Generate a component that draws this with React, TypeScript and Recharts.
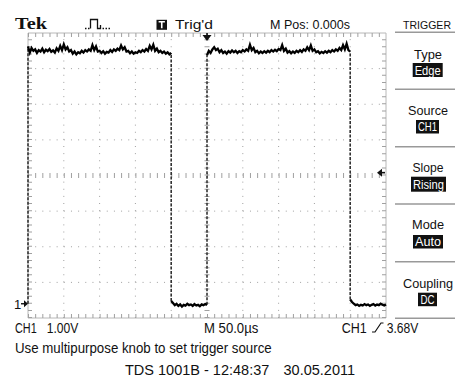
import React from 'react';
import { LineChart, Line, XAxis, YAxis, ReferenceLine, ReferenceDot } from 'recharts';

// ---- data (time in µs, voltage in V) ----
const SAMPLE_STEP = 2.5;
const high1Start = -250;
const high1 = [
  7.22, 7.05, 7.18, 7.10, 7.14, 7.04, 7.12, 7.08, 7.16, 7.06,
  7.13, 7.09, 7.15, 7.07, 7.11, 7.05, 7.17, 7.10, 7.24, 7.12,
  7.28, 7.14, 7.20, 7.08, 7.12, 7.02, 7.08, 7.00, 7.06, 7.03,
  7.10, 7.05, 7.12, 7.08, 7.14, 7.10, 7.26, 7.12, 7.22, 7.08,
  7.10, 7.04, 7.09, 7.02, 7.07, 7.05, 7.12, 7.07, 7.14, 7.10,
  7.16, 7.12, 7.25, 7.14, 7.20, 7.08, 7.10, 7.03, 7.08, 7.02,
  7.06, 7.04, 7.10, 7.06, 7.12, 7.08, 7.15, 7.10, 7.24, 7.14,
  7.27, 7.10, 7.16, 7.06, 7.10, 7.04, 7.08, 7.02, 7.06, 7.00,
  7.04,
];
const low1Start = -50;
const low1 = [
  0.08, 0.02, -0.04, 0.00, -0.06, -0.02, -0.08, -0.03, -0.05, 0.00,
  -0.04, -0.02, -0.06, -0.01, -0.05, -0.03, -0.07, -0.02, -0.04, -0.01,
  -0.03,
];
const high2Start = 0;
const high2 = [
  6.98, 7.10, 7.04, 7.14, 7.20, 7.12, 7.16, 7.06, 7.12, 7.04,
  7.08, 7.02, 7.09, 7.05, 7.11, 7.06, 7.10, 7.04, 7.09, 7.06,
  7.12, 7.08, 7.14, 7.10, 7.27, 7.12, 7.18, 7.06, 7.10, 7.03,
  7.08, 7.04, 7.09, 7.05, 7.10, 7.06, 7.12, 7.08, 7.13, 7.09,
  7.15, 7.12, 7.26, 7.10, 7.16, 7.05, 7.09, 7.03, 7.08, 7.04,
  7.10, 7.06, 7.12, 7.07, 7.14, 7.10, 7.20, 7.12, 7.25, 7.10,
  7.14, 7.06, 7.09, 7.03, 7.07, 7.04, 7.09, 7.05, 7.10, 7.06,
  7.12, 7.08, 7.14, 7.10, 7.18, 7.12, 7.26, 7.14, 7.30, 7.12,
  7.08,
];
const low2Start = 200;
const low2 = [
  0.12, 0.05, 0.00, -0.04, -0.02, -0.06, -0.03, -0.05, -0.01, -0.04,
  -0.02, -0.06, -0.03, -0.01, -0.05, -0.02, -0.04, 0.00, -0.03, -0.05,
  -0.02,
];
const edgeTimes = [-250, -50, 0, 200];
const edgeLows = [0.0, 0.08, -0.03, 0.12];
const edgeHighs = [7.22, 7.04, 6.98, 7.08];

// axes / graticule (10 x 50 µs, 8 x 1 V)
const timeDomain = [-250, 250];
const voltDomain = [-0.4, 7.6];
const gridTimes = [-200, -150, -100, -50, 50, 100, 150, 200];
const gridVolts = [0.6, 1.6, 2.6, 4.6, 5.6, 6.6];
const centerTime = 0;
const centerVolt = 3.6;
const triggerLevel = 3.68;
const groundLevel = 0;

const toSeries = (start: number, vals: number[]) =>
  vals.map((v, i) => ({ t: start + i * SAMPLE_STEP, v }));

const segments = [
  toSeries(high1Start, high1),
  toSeries(low1Start, low1),
  toSeries(high2Start, high2),
  toSeries(low2Start, low2),
];
const edgeSeries = edgeTimes.map((t, i) => [
  { t, v: edgeLows[i] },
  { t, v: edgeHighs[i] },
]);

const W = 455;
const H = 382;
const M = { top: 33, right: 69, bottom: 64, left: 28 };
const pxPerUs = (W - M.left - M.right) / (timeDomain[1] - timeDomain[0]);
const pxPerV = (H - M.top - M.bottom) / (voltDomain[1] - voltDomain[0]);
const insetT = 2 / pxPerUs;
const insetV = 2 / pxPerV;

const GRID = '#a0a0a0';
const SANS = '"Liberation Sans Narrow", "Liberation Sans", Arial, sans-serif';
const SANS_W = '"Liberation Sans", Arial, sans-serif';

const Txt = ({ x, y, w, size = 14, fill = '#111', family = SANS, weight = 400, anchor = 'start', children }: any) => (
  <text
    x={x}
    y={y}
    fontSize={size}
    fill={fill}
    fontFamily={family}
    fontWeight={weight}
    textAnchor={anchor}
    textLength={w}
    lengthAdjust={w ? 'spacingAndGlyphs' : undefined}
  >
    {children}
  </text>
);

const menu = [
  { label: 'Type', value: 'Edge', ly: 58.5, lw: 28, bx: 412.7, by: 63, bw: 30, bh: 14, vw: 26 },
  { label: 'Source', value: 'CH1', ly: 115, lw: 40, bx: 416, by: 120, bw: 23, bh: 13.5, vw: 19 },
  { label: 'Slope', value: 'Rising', ly: 171.5, lw: 31, bx: 411, by: 176.7, bw: 35, bh: 15, vw: 31 },
  { label: 'Mode', value: 'Auto', ly: 229, lw: 32, bx: 413, by: 235, bw: 30, bh: 13.5, vw: 26 },
  { label: 'Coupling', value: 'DC', ly: 287.5, lw: 50, bx: 418, by: 292.7, bw: 19, bh: 13.5, vw: 14 },
];
const menuLines = [32.3, 89.3, 146.7, 204, 261.7, 318.3];

const TopMarker = (p: any) => (
  <path
    d={`M${p.cx - 4.5},${p.cy + 2} h9 l-4.5,6 z M${p.cx - 0.8},${p.cy} h1.6 v3 h-1.6 z`}
    fill="#111"
  />
);
const TrigMarker = (p: any) => (
  <g>
    <path d={`M${p.cx - 9},${p.cy} l5,-4 v8 z`} fill="#111" />
    <line x1={p.cx - 5} y1={p.cy} x2={p.cx - 1} y2={p.cy} stroke="#111" strokeWidth={1.6} />
  </g>
);
const GroundMarker = (p: any) => (
  <g>
    <text x={p.cx - 14} y={p.cy + 5} fontSize={13} fontFamily={SANS_W} fill="#111">1</text>
    <path d={`M${p.cx},${p.cy} l-4,-3.5 v7 z`} fill="#111" />
    <line x1={p.cx - 7} y1={p.cy} x2={p.cx - 3} y2={p.cy} stroke="#111" strokeWidth={1.4} />
  </g>
);

export default function App() {
  return (
    <div style={{ position: 'absolute', left: 0, top: 0, width: W, height: H, background: '#fff', overflow: 'hidden' }}>
      <div style={{ position: 'absolute', left: 0, top: 0 }}>
        <LineChart width={W} height={H} margin={M}>
          <XAxis type="number" dataKey="t" domain={timeDomain} hide />
          <YAxis type="number" dataKey="v" domain={voltDomain} hide />
          {/* frame */}
          <ReferenceLine y={voltDomain[1]} stroke="#b8b8b8" strokeWidth={1} />
          <ReferenceLine y={voltDomain[0]} stroke="#b8b8b8" strokeWidth={1} />
          <ReferenceLine x={timeDomain[0]} stroke="#b8b8b8" strokeWidth={1} />
          <ReferenceLine x={timeDomain[1]} stroke="#b8b8b8" strokeWidth={1} />
          {/* frame ticks */}
          <ReferenceLine y={voltDomain[1] - insetV} stroke={GRID} strokeWidth={4} strokeDasharray={`1 ${pxPerUs * 10 - 1}`} />
          <ReferenceLine y={voltDomain[0] + insetV} stroke={GRID} strokeWidth={4} strokeDasharray={`1 ${pxPerUs * 10 - 1}`} />
          <ReferenceLine x={timeDomain[0] + insetT} stroke={GRID} strokeWidth={4} strokeDasharray={`1 ${pxPerV * 0.2 - 1}`} />
          <ReferenceLine x={timeDomain[1] - insetT} stroke={GRID} strokeWidth={4} strokeDasharray={`1 ${pxPerV * 0.2 - 1}`} />
          {/* dotted graticule */}
          {gridTimes.map((t) => (
            <ReferenceLine key={'gt' + t} x={t} stroke={GRID} strokeWidth={1} strokeDasharray={`1 ${pxPerV * 0.2 - 1}`} />
          ))}
          {gridVolts.map((v) => (
            <ReferenceLine key={'gv' + v} y={v} stroke={GRID} strokeWidth={1} strokeDasharray={`1 ${pxPerUs * 10 - 1}`} />
          ))}
          {/* center lines with minor ticks */}
          <ReferenceLine y={centerVolt} stroke={GRID} strokeWidth={5} strokeDasharray={`1 ${pxPerUs * 10 - 1}`} />
          <ReferenceLine x={centerTime} stroke={GRID} strokeWidth={5} strokeDasharray={`1 ${pxPerV * 0.2 - 1}`} />
          {/* trace */}
          {edgeSeries.map((d, i) => (
            <Line
              key={'e' + i}
              data={d}
              dataKey="v"
              stroke="#333"
              strokeWidth={1.6}
              strokeDasharray="3 1.5"
              dot={false}
              isAnimationActive={false}
            />
          ))}
          {segments.map((d, i) => (
            <Line
              key={'s' + i}
              data={d}
              dataKey="v"
              stroke="#000"
              strokeWidth={2.3}
              strokeLinejoin="miter"
              dot={false}
              isAnimationActive={false}
            />
          ))}
          <ReferenceDot x={centerTime} y={voltDomain[1]} r={0} shape={TopMarker} />
          <ReferenceDot x={timeDomain[1]} y={triggerLevel} r={0} shape={TrigMarker} />
          <ReferenceDot x={timeDomain[0]} y={groundLevel} r={0} shape={GroundMarker} ifOverflow="visible" />
        </LineChart>
      </div>
      <svg width={W} height={H} style={{ position: 'absolute', left: 0, top: 0, pointerEvents: 'none' }}>
        {/* header */}
        <Txt x={15} y={29.3} w={32} size={17} weight={700} family='"Liberation Serif", "Times New Roman", serif'>Tek</Txt>
        <path d="M85,28.5 h1.5 M88,28.5 h1.5 M90.5,28.5 V19.5 h7 V28.5 h3 V25 M102.5,28.5 h1.5 M105.5,28.5 h1.5 M108.5,28.5 h1.5" stroke="#111" strokeWidth={1.3} fill="none" />
        <rect x={156.5} y={19.8} width={10.5} height={10} fill="#111" />
        <path d="M158.6,21.8 h6.3 M161.75,21.8 V28.3" stroke="#fff" strokeWidth={1.6} fill="none" />
        <Txt x={175} y={29.3} w={38} size={13.5}>Trig'd</Txt>
        <Txt x={270} y={29.3} w={80} size={13.5}>M Pos: 0.000s</Txt>
        <Txt x={427} y={29.3} w={48} size={11.2} anchor="middle">TRIGGER</Txt>
        {/* menu */}
        {menuLines.map((y) => (
          <line key={y} x1={395} x2={455} y1={y} y2={y} stroke="#999" strokeWidth={1.4} />
        ))}
        {menu.map((m) => (
          <g key={m.label}>
            <Txt x={428} y={m.ly} w={m.lw} size={13.5} anchor="middle">{m.label}</Txt>
            <rect x={m.bx} y={m.by} width={m.bw} height={m.bh} fill="#111" />
            <Txt x={m.bx + m.bw / 2} y={m.by + m.bh - 2.5} w={m.vw} size={13} fill="#fff" anchor="middle">{m.value}</Txt>
          </g>
        ))}
        {/* bottom status */}
        <Txt x={15} y={332.5} w={21.7}>CH1</Txt>
        <Txt x={46.7} y={332.5} w={31.6}>1.00V</Txt>
        <Txt x={204} y={332.5} w={54.3}>M 50.0µs</Txt>
        <Txt x={341.7} y={332.5} w={25}>CH1</Txt>
        <path d="M372,332 h3 L381,323 h2.5" stroke="#111" strokeWidth={1.2} fill="none" />
        <Txt x={386.7} y={332.5} w={31.6}>3.68V</Txt>
        <Txt x={15} y={352.5} w={256.7}>Use multipurpose knob to set trigger source</Txt>
        <Txt x={125} y={375} size={14.5} family={SANS_W}>TDS 1001B - 12:48:37</Txt>
        <Txt x={355} y={375} size={14.5} family={SANS_W} anchor="end">30.05.2011</Txt>
      </svg>
    </div>
  );
}
